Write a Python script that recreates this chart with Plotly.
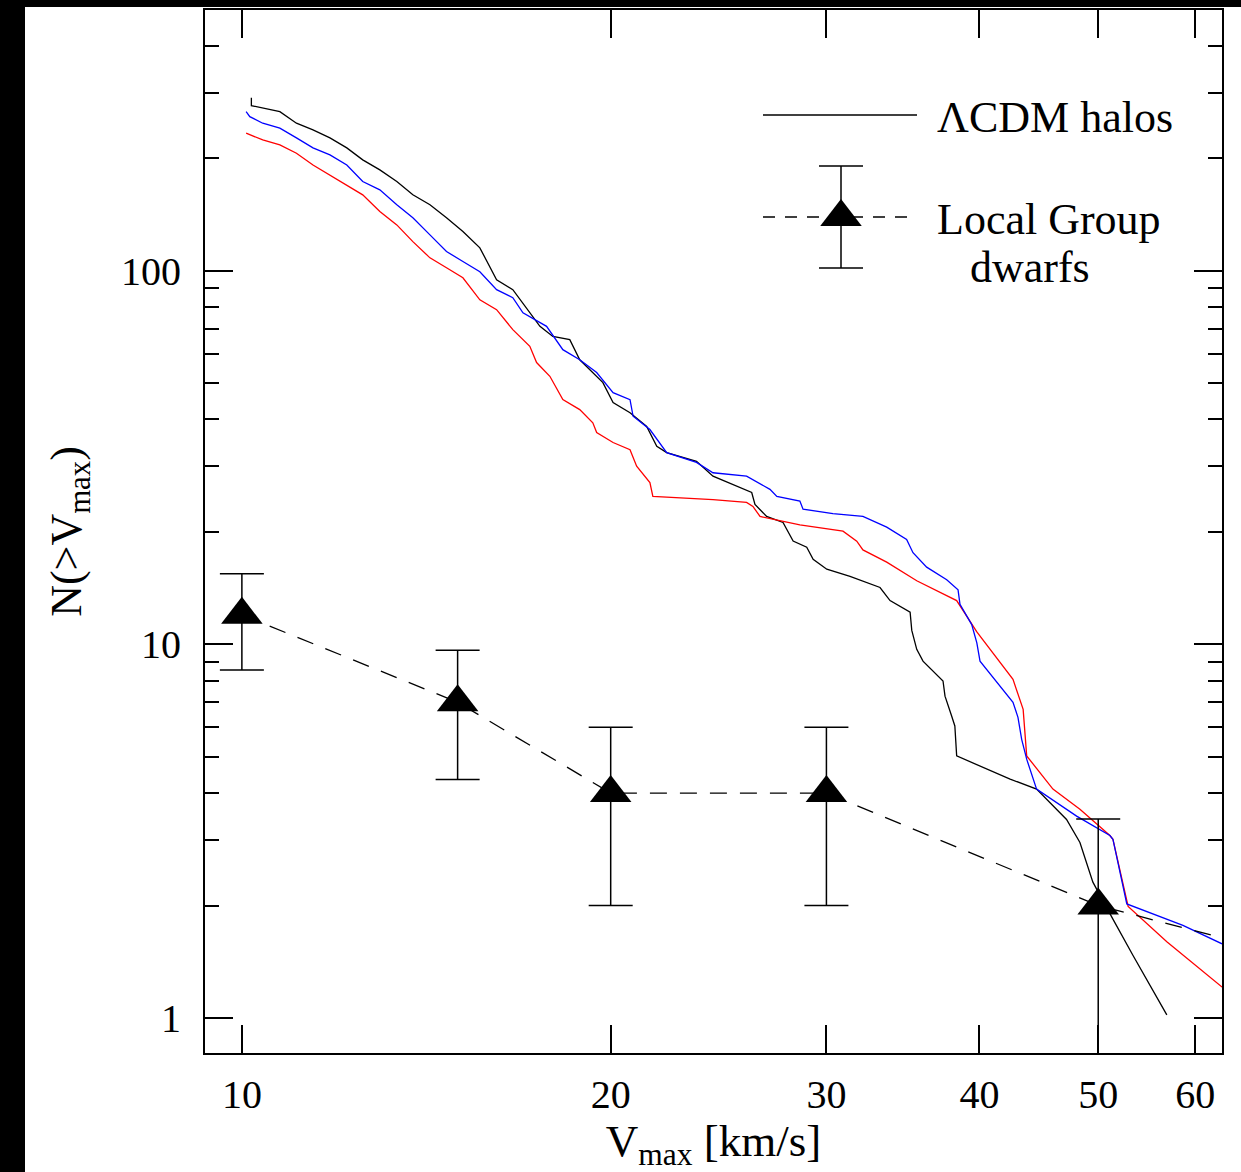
import plotly.graph_objects as go

# ---------------- data ----------------
# LCDM halo cumulative velocity functions (three realisations)
black_v = [10.18, 10.18, 10.74, 11.08, 11.43, 11.80, 12.18, 12.55, 12.96, 13.38,
           13.79, 14.24, 14.69, 15.15, 15.64, 16.14, 16.64, 16.96, 17.51, 17.94,
           18.52, 18.87, 19.34, 19.71, 20.09, 20.74, 21.40, 21.81, 22.22, 23.50,
           24.24, 25.17, 26.07, 26.23, 26.81, 27.65, 28.18, 28.91, 29.26, 30.02,
           31.36, 33.18, 33.81, 35.11, 35.22, 35.55, 35.97, 37.35, 37.49, 37.96,
           38.19, 38.32, 40.04, 42.37, 44.53, 47.11, 48.31, 49.50, 51.40, 53.38,
           56.88]
black_n = [290.7, 276.7, 266.6, 248.3, 238.3, 226.8, 213.3, 198.1, 186.2, 173.3,
           159.7, 150.2, 138.6, 127.4, 115.2, 94.6, 89.0, 81.6, 71.0, 66.7,
           65.4, 57.8, 53.4, 50.2, 44.4, 41.7, 38.3, 33.9, 32.6, 30.9,
           28.2, 26.8, 25.5, 23.7, 22.0, 21.2, 18.9, 18.2, 16.9, 15.9,
           15.2, 14.2, 13.1, 12.2, 10.9, 9.70, 9.02, 7.98, 7.27, 6.43,
           6.05, 5.03, 4.73, 4.36, 4.10, 3.40, 2.95, 2.31, 1.84, 1.47,
           1.02]

blue_v = [10.08, 10.15, 10.40, 10.74, 11.08, 11.43, 11.80, 12.18, 12.55, 12.96,
          13.38, 13.79, 14.24, 14.69, 15.15, 15.64, 16.14, 16.64, 16.96, 17.73,
          18.28, 18.87, 19.48, 20.09, 20.74, 20.86, 21.53, 22.22, 23.50, 24.24,
          25.82, 26.98, 27.33, 28.54, 28.71, 30.37, 32.13, 33.60, 34.88, 35.30,
          36.22, 37.61, 38.42, 38.56, 39.42, 39.80, 40.04, 41.31, 42.60, 43.00,
          43.30, 43.71, 44.53, 48.01, 51.11, 51.40, 52.76, 58.63, 63.10]
blue_n = [266.6, 258.6, 248.3, 240.8, 226.8, 213.3, 204.2, 192.0, 173.3, 164.7,
          150.2, 138.6, 124.8, 112.6, 105.9, 99.4, 89.0, 84.7, 77.2, 71.0,
          61.5, 57.8, 53.4, 47.2, 45.2, 40.8, 37.6, 32.6, 30.7, 28.8,
          28.2, 26.0, 24.9, 24.2, 23.0, 22.4, 22.0, 20.6, 19.1, 17.6,
          16.1, 14.9, 14.0, 12.8, 11.3, 10.1, 9.02, 7.91, 7.00, 6.38,
          5.57, 4.93, 4.10, 3.47, 3.08, 3.01, 2.02, 1.77, 1.58]

red_v = [10.08, 10.40, 10.74, 11.08, 11.43, 11.80, 12.18, 12.55, 12.96, 13.38,
         13.79, 14.24, 14.69, 15.15, 15.64, 16.14, 16.64, 17.18, 17.40, 17.84,
         18.28, 18.87, 19.34, 19.48, 20.09, 20.74, 21.00, 21.53, 21.65, 24.24,
         25.82, 26.13, 26.48, 28.54, 30.95, 31.76, 32.13, 33.60, 35.55, 38.32,
         39.80, 42.60, 43.42, 43.71, 45.92, 48.31, 51.11, 51.40, 52.89, 56.88,
         63.10]
red_n = [233.5, 224.0, 217.3, 206.4, 192.0, 180.6, 169.8, 159.7, 144.1, 132.7,
         119.7, 108.3, 101.9, 95.8, 83.6, 78.7, 69.6, 62.8, 56.8, 52.2,
         45.2, 42.5, 39.2, 36.9, 34.7, 33.2, 30.0, 27.1, 24.9, 24.4,
         24.0, 23.4, 22.0, 20.9, 20.1, 18.9, 17.9, 16.6, 14.8, 13.1,
         10.8, 8.06, 6.70, 5.03, 4.10, 3.62, 3.08, 3.01, 1.99, 1.60,
         1.21]

# Local Group dwarfs
lg_v = [10, 15, 20, 30, 50]
lg_n = [12, 7, 4, 4, 2]
lg_err = [3.46, 2.65, 2.00, 2.00, 1.41]
lg_tail_v = [70]          # continuation of the dashed line beyond the frame
lg_tail_n = [1.5]

# axis ticks
x_ticks = [10, 20, 30, 40, 50, 60]
y_ticks = [1, 10, 100]
y_minor = [2, 3, 4, 5, 6, 7, 8, 9, 20, 30, 40, 50, 60, 70, 80, 90, 200, 300, 400]

# legend labels
lbl_cdm = "ΛCDM halos"
lbl_lg1 = "Local Group"
lbl_lg2 = "dwarfs"

# ---------------- figure ----------------
FONT = "Liberation Serif"
W, H = 1241, 1172
ML, MR, MT, MB = 205, 19, 10, 119
PW, PH = W - ML - MR, H - MT - MB


def px2paper(x, y):
    return (x - ML) / PW, (H - MB - y) / PH


fig = go.Figure()

line_w = 1.3
fig.add_trace(go.Scatter(x=black_v, y=black_n, mode="lines",
                         line=dict(color="#000000", width=line_w), showlegend=False))
fig.add_trace(go.Scatter(x=red_v, y=red_n, mode="lines",
                         line=dict(color="#ff0000", width=line_w), showlegend=False))
fig.add_trace(go.Scatter(x=blue_v, y=blue_n, mode="lines",
                         line=dict(color="#0000ff", width=line_w), showlegend=False))

DASH = "17px,13px"
fig.add_trace(go.Scatter(x=lg_v + lg_tail_v, y=lg_n + lg_tail_n, mode="lines",
                         line=dict(color="black", width=1.3, dash=DASH),
                         showlegend=False))
fig.add_trace(go.Scatter(x=lg_v, y=lg_n, mode="markers",
                         marker=dict(symbol="triangle-up", size=36, color="black",
                                     line=dict(width=0)),
                         error_y=dict(type="data", array=lg_err, visible=True,
                                      color="black", thickness=1.5, width=22),
                         showlegend=False))

# ---- custom legend drawn on a hidden overlay axis (0..1 == plot area) ----
kx0, ky1 = px2paper(763, 115)
kx1, _ = px2paper(917, 115)
_, ky2 = px2paper(763, 217)
kxm, _ = px2paper(841, 217)
_, etop = px2paper(841, 166)
err_leg = etop - ky2

fig.add_trace(go.Scatter(x=[kx0, kx1], y=[ky1, ky1], mode="lines", xaxis="x2", yaxis="y2",
                         line=dict(color="black", width=1.3), showlegend=False))
fig.add_trace(go.Scatter(x=[kx0, kx1], y=[ky2, ky2], mode="lines", xaxis="x2", yaxis="y2",
                         line=dict(color="black", width=1.3, dash="12px,10px"), showlegend=False))
fig.add_trace(go.Scatter(x=[kxm], y=[ky2], mode="markers", xaxis="x2", yaxis="y2",
                         marker=dict(symbol="triangle-up", size=36, color="black",
                                     line=dict(width=0)),
                         error_y=dict(type="data", array=[err_leg], visible=True,
                                      color="black", thickness=1.5, width=22),
                         showlegend=False))

tx, ty1 = px2paper(935, 117)
_, ty2 = px2paper(935, 219)
tx3, ty3 = px2paper(968, 268)
annots = [
    dict(text=lbl_cdm, x=tx, y=ty1, xanchor="left", yanchor="middle"),
    dict(text=lbl_lg1, x=tx, y=ty2, xanchor="left", yanchor="middle"),
    dict(text=lbl_lg2, x=tx3, y=ty3, xanchor="left", yanchor="middle"),
]
for a in annots:
    a.update(xref="paper", yref="paper", showarrow=False,
             font=dict(family=FONT, size=44, color="black"))

# black strips at the picture's left and top edges
lx0, _ = px2paper(0, 0)
lx1, _ = px2paper(25, 0)
_, by0 = px2paper(0, H)
_, by1 = px2paper(0, 0)
_, by7 = px2paper(0, 7)
rx1, _ = px2paper(W, 0)
shapes = [
    dict(type="rect", xref="paper", yref="paper", x0=lx0, x1=lx1, y0=by0, y1=by1,
         fillcolor="black", line=dict(width=0), layer="above"),
    dict(type="rect", xref="paper", yref="paper", x0=lx0, x1=rx1, y0=by7, y1=by1,
         fillcolor="black", line=dict(width=0), layer="above"),
]

tickfont = dict(family=FONT, size=40, color="black")
common = dict(showgrid=False, zeroline=False, showline=True, linecolor="black",
              linewidth=2, mirror="ticks", ticks="inside", ticklen=28,
              tickwidth=1.5, tickcolor="black", tickfont=tickfont)

fig.update_layout(
    width=W, height=H,
    margin=dict(l=ML, r=MR, t=MT, b=MB, autoexpand=False),
    paper_bgcolor="white", plot_bgcolor="white",
    showlegend=False,
    xaxis=dict(type="log", range=[0.9699, 1.8000], tickmode="array",
               tickvals=x_ticks, ticktext=[str(v) for v in x_ticks],
               ticklabelstandoff=5,
               title=dict(text="V<sub>max</sub> [km/s]", standoff=24,
                          font=dict(family=FONT, size=45, color="black")),
               **common),
    yaxis=dict(type="log", range=[-0.0936, 2.698], tickmode="array",
               tickvals=y_ticks, ticktext=[str(v) for v in y_ticks],
               ticklabelstandoff=14,
               minor=dict(tickmode="array", tickvals=y_minor, ticks="inside",
                          ticklen=14, tickwidth=1.5, tickcolor="black",
                          showgrid=False),
               title=dict(text="N(>V<sub>max</sub>)", standoff=26,
                          font=dict(family=FONT, size=44, color="black")),
               **common),
    xaxis2=dict(overlaying="x", range=[0, 1], visible=False, fixedrange=True),
    yaxis2=dict(overlaying="y", range=[0, 1], visible=False, fixedrange=True),
    annotations=annots,
    shapes=shapes,
)

fig.write_html(
    "out.html",
    config={"displayModeBar": False},
    post_script="document.body.style.margin='0px';document.body.style.overflow='hidden';",
)
